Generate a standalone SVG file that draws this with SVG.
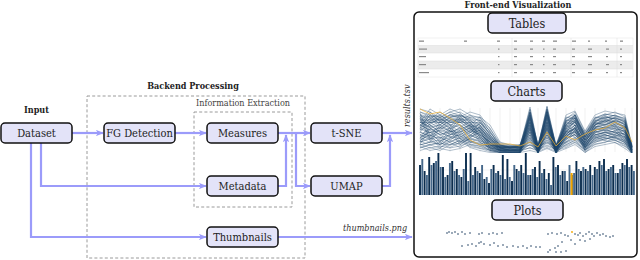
<svg xmlns="http://www.w3.org/2000/svg" width="640" height="260" viewBox="0 0 640 260">
<style>
.node rect{fill:#e3e3f8;stroke:#111;stroke-width:1.5}
.lbl{font-family:"DejaVu Serif Condensed","DejaVu Serif","Liberation Serif",serif;font-size:11px;fill:#222;text-anchor:middle}
.big{font-size:12.5px}
.title{font-family:"DejaVu Serif Condensed","DejaVu Serif","Liberation Serif",serif;font-weight:bold;font-size:9px;fill:#222;text-anchor:middle}
.sub{font-family:"DejaVu Serif Condensed","DejaVu Serif","Liberation Serif",serif;font-size:9px;fill:#444;text-anchor:middle}
.it{font-family:"DejaVu Serif Condensed","DejaVu Serif","Liberation Serif",serif;font-style:italic;font-size:9px;fill:#333}
.dash{fill:none;stroke:#9a9a9a;stroke-width:1;stroke-dasharray:3,2.2}
.conn path{fill:none;stroke:#9b9bfa;stroke-width:2.2;marker-end:url(#ah)}
.pc polyline{fill:none;stroke:#1d466b;stroke-opacity:0.5;stroke-width:0.7}
.tt{fill:#8a8a8a}
.dot{fill:#1f3f60}
</style>
<defs>
<marker id="ah" viewBox="0 0 10 8" refX="9" refY="4" markerWidth="8" markerHeight="6.4" markerUnits="userSpaceOnUse" orient="auto">
<path d="M0,0 L10,4 L0,8 L2.5,4 z" fill="#9b9bfa"/>
</marker>
<clipPath id="pcclip"><rect x="418" y="106" width="216" height="47"/></clipPath>
</defs>
<rect width="640" height="260" fill="#fff"/>

<text class="title" x="36.5" y="113">Input</text>
<text class="title" x="193" y="89">Backend Processing</text>
<text class="sub" x="243" y="106">Information Extraction</text>
<text class="title" x="518" y="8">Front-end Visualization</text>

<rect class="dash" x="87" y="96" width="218" height="162"/>
<rect class="dash" x="194" y="112" width="98" height="95"/>

<g class="conn">
<path d="M72,133 H103"/>
<path d="M175,133 H206"/>
<path d="M41,143 V186 H206"/>
<path d="M31,143 V237 H206"/>
<path d="M278,133 H310"/>
<path d="M278,186 H286 V135"/>
<path d="M296,133 V186 H310"/>
<path d="M382,133 H412"/>
<path d="M382,186 H390 V135"/>
<path d="M278,237 H412"/>
</g>

<text class="it" transform="translate(409.5,127) rotate(-90)">results.tsv</text>
<text class="it" x="343" y="231">thumbnails.png</text>

<g id="dataset" class="node"><rect x="1" y="123" width="71" height="20" rx="4"/><text class="lbl" x="36.5" y="137">Dataset</text></g>
<g id="fg" class="node"><rect x="104" y="123" width="71" height="20" rx="4"/><text class="lbl" x="139.5" y="137">FG Detection</text></g>
<g id="measures" class="node"><rect x="207" y="123" width="71" height="20" rx="4"/><text class="lbl" x="242.5" y="137">Measures</text></g>
<g id="metadata" class="node"><rect x="207" y="176" width="71" height="20" rx="4"/><text class="lbl" x="242.5" y="190">Metadata</text></g>
<g id="thumbnails" class="node"><rect x="207" y="227" width="71" height="20" rx="4"/><text class="lbl" x="242.5" y="241">Thumbnails</text></g>
<g id="tsne" class="node"><rect x="311" y="123" width="71" height="20" rx="4"/><text class="lbl" x="346.5" y="137">t-SNE</text></g>
<g id="umap" class="node"><rect x="311" y="176" width="71" height="20" rx="4"/><text class="lbl" x="346.5" y="190">UMAP</text></g>

<g id="frontend">
<rect x="414" y="12" width="223" height="245" rx="5" fill="none" stroke="#111" stroke-width="1.5"/>

<g id="table">
<rect x="418" y="38" width="215" height="39" fill="#fff" stroke="#e4e4e4" stroke-width="0.5"/>
<rect x="418" y="45.5" width="215" height="7.5" fill="#ececec"/>
<rect x="418" y="61" width="215" height="8" fill="#ececec"/>
<path d="M418,45.5H633M418,53H633M418,61H633M418,69H633M512,38V77M571,38V77M617,38V77" stroke="#dcdcdc" stroke-width="0.5"/>
<g class="tt">
<rect x="419" y="40.5" width="5" height="1.3"/><rect x="464" y="40.5" width="3" height="1.3"/><rect x="497" y="40.5" width="3" height="1.3"/><rect x="514" y="40.5" width="3" height="1.3"/><rect x="530" y="40.5" width="3" height="1.3"/><rect x="542" y="40.5" width="3" height="1.3"/><rect x="553" y="40.5" width="4" height="1.3"/><rect x="572" y="40.5" width="4" height="1.3"/><rect x="588" y="40.5" width="2" height="1.3"/><rect x="605" y="40.5" width="2" height="1.3"/><rect x="620" y="40.5" width="3" height="1.3"/>
<rect x="419" y="48.5" width="8" height="1.2"/><rect x="498" y="48.5" width="1.5" height="1.2"/><rect x="514" y="48.5" width="3" height="1.2"/><rect x="530" y="48.5" width="3" height="1.2"/><rect x="543" y="48.5" width="1.5" height="1.2"/><rect x="553" y="48.5" width="3" height="1.2"/><rect x="572" y="48.5" width="3" height="1.2"/><rect x="588" y="48.5" width="4" height="1.2"/><rect x="606" y="48.5" width="3" height="1.2"/><rect x="620" y="48.5" width="2" height="1.2"/>
<rect x="419" y="56" width="7" height="1.2"/><rect x="498" y="56" width="1.5" height="1.2"/><rect x="514" y="56" width="3" height="1.2"/><rect x="530" y="56" width="3" height="1.2"/><rect x="543" y="56" width="1.5" height="1.2"/><rect x="553" y="56" width="3" height="1.2"/><rect x="572" y="56" width="3" height="1.2"/><rect x="588" y="56" width="4" height="1.2"/><rect x="606" y="56" width="2" height="1.2"/><rect x="620" y="56" width="2" height="1.2"/>
<rect x="419" y="64" width="7" height="1.2"/><rect x="498" y="64" width="1.5" height="1.2"/><rect x="514" y="64" width="3" height="1.2"/><rect x="530" y="64" width="3" height="1.2"/><rect x="543" y="64" width="1.5" height="1.2"/><rect x="553" y="64" width="3" height="1.2"/><rect x="572" y="64" width="3" height="1.2"/><rect x="588" y="64" width="4" height="1.2"/><rect x="606" y="64" width="3" height="1.2"/><rect x="620" y="64" width="2" height="1.2"/>
<rect x="419" y="72" width="10" height="1.2"/><rect x="498" y="72" width="1.5" height="1.2"/><rect x="514" y="72" width="3" height="1.2"/><rect x="530" y="72" width="3" height="1.2"/><rect x="543" y="72" width="1.5" height="1.2"/><rect x="553" y="72" width="3" height="1.2"/><rect x="572" y="72" width="3" height="1.2"/><rect x="588" y="72" width="4" height="1.2"/><rect x="606" y="72" width="2" height="1.2"/><rect x="620" y="72" width="2" height="1.2"/>
</g>
</g>

<g id="parcoords">
<path d="M420,108V152M430,108V152M440,108V152M450,108V152M460,108V152M470,108V152M480,108V152M490,108V152M500,108V152M510,108V152M520,108V152M530,108V152M538,108V152M547,108V152M556,108V152M566,108V152M575,108V152M585,108V152M595,108V152M605,108V152M615,108V152M625,108V152M632,108V152" stroke="#d8d8d8" stroke-width="0.4"/>
<g clip-path="url(#pcclip)">
<g id="pcset" class="pc">
<polyline points="420,115 430,120 440,118 450,125 460,122 470,130 480,128 490,140 500,148 510,150 520,149 530,112 538,149 547,110 556,148 566,130 575,118 585,140 595,125 605,120 615,122 625,128 632,150"/>
<polyline points="420,140 430,135 440,145 450,138 460,130 470,125 480,140 490,145 500,150 510,150 520,148 530,125 538,150 547,120 556,150 566,135 575,125 585,145 595,130 605,128 615,130 625,135 632,149"/>
<polyline points="420,125 430,130 440,128 450,120 460,118 470,122 480,135 490,148 500,150 510,151 520,150 530,118 538,148 547,115 556,149 566,125 575,120 585,138 595,122 605,118 615,125 625,130 632,150"/>
<polyline points="420,145 430,142 440,140 450,145 460,140 470,135 480,130 490,142 500,149 510,150 520,150 530,140 538,150 547,135 556,150 566,140 575,130 585,148 595,135 605,132 615,128 625,140 632,151"/>
<polyline points="420,118 430,125 440,132 450,128 460,135 470,128 480,120 490,135 500,147 510,149 520,149 530,130 538,149 547,128 556,149 566,128 575,135 585,142 595,128 605,125 615,120 625,125 632,149"/>
<polyline points="420,130 430,118 440,120 450,115 460,112 470,118 480,125 490,138 500,148 510,150 520,150 530,115 538,150 547,112 556,150 566,122 575,115 585,135 595,120 605,122 615,118 625,122 632,150"/>
<polyline points="420,135 430,140 440,125 450,132 460,128 470,140 480,135 490,147 500,150 510,151 520,151 530,135 538,151 547,125 556,151 566,138 575,128 585,148 595,138 605,135 615,138 625,142 632,151"/>
<polyline points="420,122 430,128 440,135 450,140 460,145 470,138 480,142 490,148 500,150 510,150 520,149 530,145 538,149 547,140 556,148 566,145 575,140 585,150 595,142 605,140 615,135 625,138 632,150"/>
<polyline points="420,112 430,115 440,125 450,118 460,120 470,115 480,118 490,132 500,146 510,148 520,148 530,120 538,148 547,118 556,148 566,120 575,122 585,136 595,125 605,118 615,115 625,120 632,148"/>
<polyline points="420,148 430,145 440,148 450,142 460,138 470,145 480,148 490,150 500,151 510,151 520,151 530,128 538,151 547,130 556,151 566,132 575,125 585,144 595,132 605,130 615,132 625,134 632,151"/>
<polyline points="420,128 430,122 440,115 450,122 460,125 470,132 480,138 490,144 500,149 510,150 520,150 530,138 538,150 547,138 556,149 566,135 575,132 585,146 595,128 605,124 615,126 625,132 632,150"/>
<polyline points="420,138 430,132 440,138 450,135 460,132 470,128 480,132 490,140 500,148 510,150 520,149 530,122 538,149 547,122 556,150 566,128 575,118 585,140 595,126 605,128 615,124 625,126 632,150"/>
<polyline points="420,116 430,138 440,142 450,130 460,118 470,124 480,128 490,146 500,150 510,151 520,150 530,132 538,150 547,132 556,150 566,142 575,138 585,149 595,140 605,136 615,134 625,130 632,151"/>
<polyline points="420,142 430,126 440,122 450,128 460,142 470,136 480,126 490,136 500,148 510,149 520,149 530,142 538,149 547,145 556,149 566,136 575,132 585,143 595,134 605,138 615,140 625,144 632,150"/>
<polyline points="420,120 430,120 440,120 450,120 460,120 470,120 480,120 490,128 500,145 510,148 520,148 530,116 538,148 547,114 556,148 566,124 575,118 585,137 595,121 605,117 615,119 625,124 632,149"/>
<polyline points="420,144 430,148 440,146 450,148 460,146 470,142 480,144 490,148 500,150 510,151 520,150 530,148 538,150 547,146 556,150 566,146 575,142 585,150 595,144 605,142 615,140 625,146 632,151"/>
<polyline points="420,132 430,136 440,130 450,134 460,136 470,144 480,146 490,149 500,151 510,151 520,150 530,126 538,150 547,126 556,150 566,134 575,128 585,147 595,136 605,132 615,136 625,140 632,151"/>
<polyline points="420,126 430,112 440,118 450,112 460,116 470,126 480,134 490,142 500,149 510,150 520,150 530,110 538,150 547,109 556,150 566,118 575,114 585,134 595,118 605,114 615,116 625,118 632,150"/>
</g>
<use href="#pcset" transform="translate(0,2.5)"/>
<use href="#pcset" transform="translate(0,-3)"/>
</g>
<polyline points="420,109 430,114 440,112 450,118 460,125 470,140 480,145 490,144 500,144 510,144 520,146 530,142 538,147 547,132 556,146 566,136 575,140 585,134 595,130 605,128 615,122 625,128 632,142" fill="none" stroke="#f0b030" stroke-width="0.8" stroke-opacity="0.9"/>
</g>

<g id="bars">
<path d="M419,170H636" stroke="#dddddd" stroke-width="0.4"/>
<path d="M420,195 v-30 m4.6,30 v-24 m4.6,24 v-38 m4.6,38 v-32 m4.6,32 v-42 m4.6,42 v-28 m4.6,28 v-20 m4.6,20 v-34 m4.6,34 v-26 m4.6,26 v-18 m4.6,18 v-42 m4.6,42 v-42 m4.6,42 v-28 m4.6,28 v-22 m4.6,22 v-16 m4.6,16 v-12 m4.6,12 v-30 m4.6,30 v-24 m4.6,24 v-40 m4.6,40 v-36 m4.6,36 v-14 m4.6,14 v-26 m4.6,26 v-30 m4.6,30 v-42 m4.6,42 v-20 m4.6,20 v-28 m4.6,28 v-34 m4.6,34 v-26 m4.6,26 v-22 m4.6,22 v-38 m4.6,38 v-30 m4.6,30 v-24 m4.6,24 v-14 m4.6,14 v-20 m4.6,20 v-34 m4.6,34 v-24 m4.6,24 v-26 m4.6,26 v-30 m4.6,30 v-28 m4.6,28 v-34 m4.6,34 v-36 m4.6,36 v-26 m4.6,26 v-30 m4.6,30 v-22 m4.6,22 v-32 m4.6,32 v-36 m4.6,36 v-30" stroke="#0b2d4e" stroke-width="1.9" fill="none"/>
<path d="M422.3,195 v-36 m4.6,36 v-20 m4.6,20 v-30 m4.6,30 v-34 m4.6,34 v-28 m4.6,28 v-18 m4.6,18 v-32 m4.6,32 v-24 m4.6,24 v-20 m4.6,20 v-26 m4.6,26 v-14 m4.6,14 v-20 m4.6,20 v-24 m4.6,24 v-30 m4.6,30 v-18 m4.6,18 v-26 m4.6,26 v-22 m4.6,22 v-20 m4.6,20 v-16 m4.6,16 v-18 m4.6,18 v-30 m4.6,30 v-24 m4.6,24 v-22 m4.6,22 v-20 m4.6,20 v-26 m4.6,26 v-18 m4.6,18 v-22 m4.6,22 v-16 m4.6,16 v-10 m4.6,10 v-28 m4.6,28 v-20 m4.6,20 v-24 m4.6,24 v-30 m4.6,30 v-22 m4.6,22 v-26 m4.6,26 v-28 m4.6,28 v-24 m4.6,24 v-20 m4.6,20 v-26 m4.6,26 v-30 m4.6,30 v-24 m4.6,24 v-28 m4.6,28 v-22 m4.6,22 v-26 m4.6,26 v-30 m4.6,30 v-28 m4.6,28 v-24" stroke="#46688a" stroke-width="1.9" fill="none"/>
<rect x="570.6" y="173" width="2" height="22" fill="#f5a800"/>
</g>

<g id="scatter">
<g class="dot">
<circle cx="447" cy="233" r="0.8"/><circle cx="449" cy="232" r="0.8"/><circle cx="452" cy="233" r="0.8"/><circle cx="455" cy="232" r="0.8"/><circle cx="458" cy="234" r="0.8"/><circle cx="462" cy="232" r="0.8"/><circle cx="465" cy="234" r="0.8"/><circle cx="470" cy="233" r="0.8"/><circle cx="479" cy="234" r="0.8"/><circle cx="482" cy="233" r="0.8"/><circle cx="489" cy="234" r="0.8"/><circle cx="493" cy="233" r="0.8"/><circle cx="497" cy="234" r="0.8"/><circle cx="502" cy="233" r="0.8"/>
<circle cx="462" cy="246" r="0.8"/><circle cx="468" cy="245" r="0.8"/><circle cx="472" cy="244" r="0.8"/><circle cx="476" cy="246" r="0.8"/><circle cx="479" cy="243" r="0.8"/><circle cx="481" cy="242" r="0.8"/><circle cx="484" cy="244" r="0.8"/><circle cx="490" cy="245" r="0.8"/><circle cx="494" cy="243" r="0.8"/><circle cx="498" cy="246" r="0.8"/><circle cx="503" cy="245" r="0.8"/><circle cx="507" cy="247" r="0.8"/><circle cx="513" cy="246" r="0.8"/><circle cx="518" cy="247" r="0.8"/><circle cx="523" cy="246" r="0.8"/><circle cx="527" cy="248" r="0.8"/><circle cx="531" cy="246" r="0.8"/><circle cx="536" cy="247" r="0.8"/><circle cx="540" cy="247" r="0.8"/>
<circle cx="548" cy="234" r="0.8"/><circle cx="552" cy="233" r="0.8"/><circle cx="557" cy="234" r="0.8"/><circle cx="561" cy="233" r="0.8"/><circle cx="565" cy="235" r="0.8"/><circle cx="568" cy="236" r="0.8"/><circle cx="575" cy="234" r="0.8"/><circle cx="578" cy="235" r="0.8"/><circle cx="580" cy="233" r="0.8"/><circle cx="583" cy="236" r="0.8"/><circle cx="586" cy="234" r="0.8"/><circle cx="589" cy="232" r="0.8"/><circle cx="592" cy="234" r="0.8"/><circle cx="594" cy="236" r="0.8"/><circle cx="597" cy="233" r="0.8"/><circle cx="600" cy="235" r="0.8"/><circle cx="603" cy="234" r="0.8"/><circle cx="606" cy="236" r="0.8"/><circle cx="610" cy="237" r="0.8"/><circle cx="613" cy="236" r="0.8"/>
<circle cx="580" cy="240" r="0.8"/><circle cx="585" cy="241" r="0.8"/><circle cx="590" cy="239" r="0.8"/><circle cx="575" cy="244" r="0.8"/><circle cx="571" cy="240" r="0.8"/><circle cx="562" cy="242" r="0.8"/><circle cx="558" cy="246" r="0.8"/><circle cx="555" cy="248" r="0.8"/><circle cx="550" cy="250" r="0.8"/><circle cx="548" cy="252" r="0.8"/><circle cx="556" cy="252" r="0.8"/><circle cx="561" cy="252" r="0.8"/><circle cx="566" cy="251" r="0.8"/>
</g>
<circle cx="572" cy="232" r="0.9" fill="#f5a800"/>
</g>

<g id="tables" class="node"><rect x="488" y="13" width="78" height="20" rx="4"/><text class="lbl big" x="527" y="27.5">Tables</text></g>
<g id="charts" class="node"><rect x="491" y="81" width="71" height="20" rx="4"/><text class="lbl big" x="526.5" y="95.5">Charts</text></g>
<g id="plots" class="node"><rect x="492" y="200" width="71" height="20" rx="4"/><text class="lbl big" x="527.5" y="214.5">Plots</text></g>
</g>
</svg>
